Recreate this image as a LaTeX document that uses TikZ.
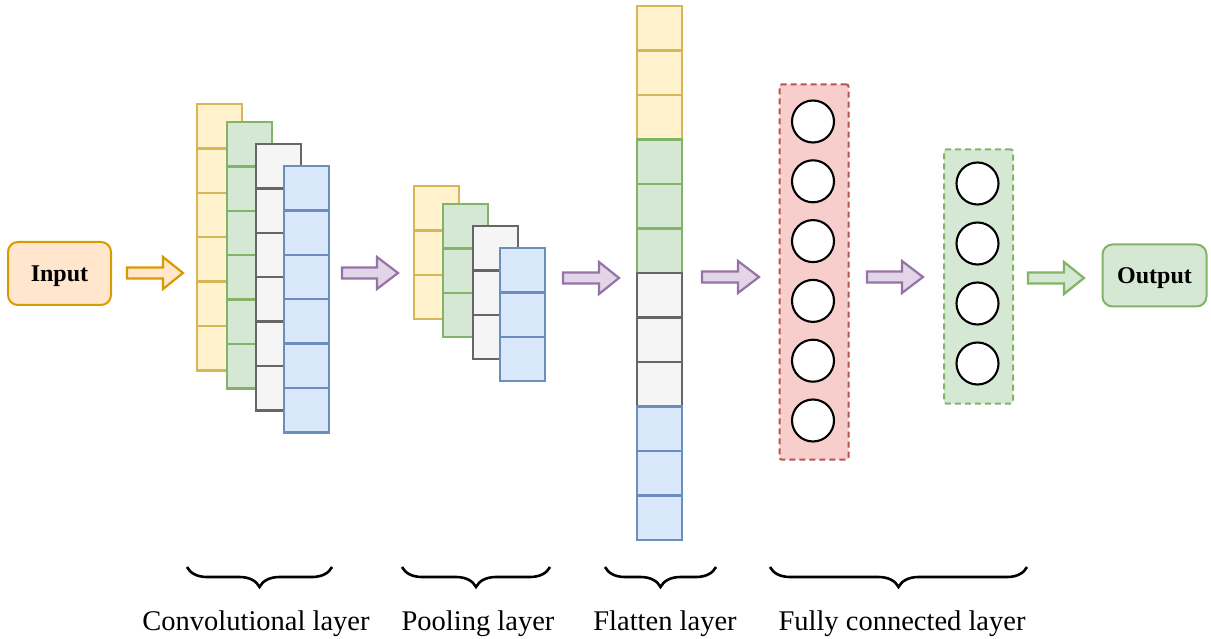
\documentclass[tikz,border=0pt]{standalone}
\usepackage{fontspec}
\setmainfont{Liberation Serif}
\usetikzlibrary{decorations.pathreplacing}
\definecolor{yfill}{HTML}{FFF2CC}\definecolor{ydraw}{HTML}{D6B656}
\definecolor{gfill}{HTML}{D5E8D4}\definecolor{gdraw}{HTML}{82B366}
\definecolor{kfill}{HTML}{F5F5F5}\definecolor{kdraw}{HTML}{666666}
\definecolor{bfill}{HTML}{DAE8FC}\definecolor{bdraw}{HTML}{6C8EBF}
\definecolor{rfill}{HTML}{F8CECC}\definecolor{rdraw}{HTML}{B85450}
\definecolor{pfill}{HTML}{E1D5E7}\definecolor{pdraw}{HTML}{9673A6}
\definecolor{ofill}{HTML}{FFE6CC}\definecolor{odraw}{HTML}{D79B00}
\tikzset{
  cell/.style={draw, line width=2.4pt, minimum width=45pt, minimum height=44.4pt,
    anchor=north west, inner sep=0pt, outer sep=0pt},
  ycell/.style={cell, fill=yfill, draw=ydraw},
  gcell/.style={cell, fill=gfill, draw=gdraw},
  kcell/.style={cell, fill=kfill, draw=kdraw},
  bcell/.style={cell, fill=bfill, draw=bdraw},
  neuron/.style={circle, draw=black, fill=white, line width=2.1pt, minimum size=42pt, inner sep=0pt},
  fcbox/.style={draw, dash pattern=on 6pt off 4pt, line width=2pt, rounded corners=2pt,
    anchor=north west, inner sep=0pt},
  endbox/.style={draw, line width=2pt, rounded corners=10pt, inner sep=0pt, text depth=0pt,
    font=\bfseries\fontsize{24}{24}\selectfont},
  parrow/.style={fill=pfill, draw=pdraw, line width=2.2pt, line join=miter},
  bracestyle/.style={draw, line width=2.6pt, decorate, decoration={brace, mirror, amplitude=20pt}},
  lbl/.style={anchor=base, font=\fontsize{28.5}{30}\selectfont, inner sep=0pt}
}
\newcommand\mkcol[5]{% name, x, y, count, style
  \foreach \i in {1,...,#4} {\node[#5] (#1-\i) at (#2, {#3+(\i-1)*44.4}) {};}}
\newcommand\blockarrow[5]{% x start, head base, tip, y center, style
  \draw[#5] (#1,{#4-5.5}) -- (#2,{#4-5.5}) -- (#2,{#4-16}) -- (#3,#4) -- (#2,{#4+16})
    -- (#2,{#4+5.5}) -- (#1,{#4+5.5}) -- cycle;}
\begin{document}
\begin{tikzpicture}[x=1pt, y=-1pt]
\useasboundingbox (0,0) rectangle (1211,639);
% input / output
\node[endbox, fill=ofill, draw=odraw, minimum width=103pt, minimum height=63pt] (in) at (59.5,273.5) {Input};
\node[endbox, fill=gfill, draw=gdraw, minimum width=104pt, minimum height=62pt] (out) at (1154.5,275.5) {Output};
% convolutional layer
\mkcol{cy}{197}{104}{6}{ycell}
\mkcol{cg}{227}{122}{6}{gcell}
\mkcol{ck}{256}{144}{6}{kcell}
\mkcol{cb}{284}{166}{6}{bcell}
% pooling layer
\mkcol{py}{414}{186}{3}{ycell}
\mkcol{pg}{443}{204}{3}{gcell}
\mkcol{pk}{473}{226}{3}{kcell}
\mkcol{pb}{500}{248}{3}{bcell}
% flatten layer
\foreach \i in {1,2,3} {\node[ycell] (f-\i) at (637, {6+(\i-1)*44.5}) {};}
\foreach \i in {4,5,6} {\node[gcell] (f-\i) at (637, {6+(\i-1)*44.5}) {};}
\foreach \i in {7,8,9} {\node[kcell] (f-\i) at (637, {6+(\i-1)*44.5}) {};}
\foreach \i in {10,11,12} {\node[bcell] (f-\i) at (637, {6+(\i-1)*44.5}) {};}
% fully connected
\node[fcbox, fill=rfill, draw=rdraw, minimum width=69pt, minimum height=375pt] (fc1) at (778.5,83.5) {};
\foreach \i in {1,...,6} {\node[neuron] (n1-\i) at (813, {121.5+(\i-1)*59.8}) {};}
\node[fcbox, fill=gfill, draw=gdraw, minimum width=69pt, minimum height=254pt] (fc2) at (943,148.5) {};
\foreach \i in {1,...,4} {\node[neuron] (n2-\i) at (977.5, {183.5+(\i-1)*60}) {};}
% block arrows
\blockarrow{127}{163}{183}{273}{fill=ofill, draw=odraw, line width=2.2pt, line join=miter}
\blockarrow{342}{377}{398}{273}{parrow}
\blockarrow{563}{599}{619}{278}{parrow}
\blockarrow{702}{738}{759}{277}{parrow}
\blockarrow{867}{902}{923}{277}{parrow}
\blockarrow{1028}{1064}{1084}{278}{fill=gfill, draw=gdraw, line width=2.2pt, line join=miter}
% braces and labels
\draw[bracestyle] (187,567) -- (332,567);
\draw[bracestyle] (402,567) -- (550,567);
\draw[bracestyle] (605,567) -- (716,567);
\draw[bracestyle] (770,567) -- (1027,567);
\node[lbl] (l1) at (256,630) {Convolutional layer};
\node[lbl] (l2) at (478,630) {Pooling layer};
\node[lbl] (l3) at (665,630) {Flatten layer};
\node[lbl] (l4) at (902,630) {Fully connected layer};
\end{tikzpicture}
\end{document}
